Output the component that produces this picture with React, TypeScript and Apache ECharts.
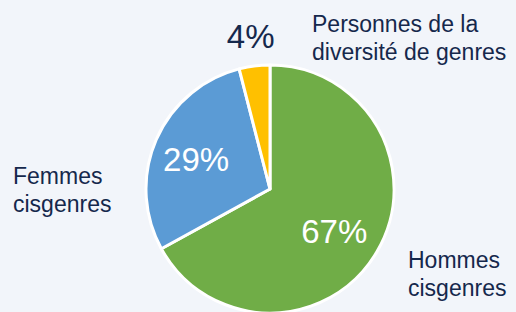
import React, { useEffect, useRef } from 'react';
import * as echarts from 'echarts';

const categories = ['Hommes\ncisgenres', 'Femmes\ncisgenres', 'Personnes de la\ndiversité de genres'];
const shares = [67, 29, 4];
const sliceColors = ['#70AD47', '#5B9BD5', '#FFC000'];

// label anchor (left x, middle y) for category names
const nameAnchors = [[408, 274], [13, 190], [312, 38]];
// small nudges for the percentage labels
const pctNudges = [[-5, 2], [0, 2], [0, 0]];

const NAVY = '#15284C';
const CENTER = [270, 189];
const R = 124;
const PCT_FONT = 'Liberation Sans Narrow, Arial Narrow, Liberation Sans, Arial, sans-serif';

export default function App() {
  const ref = useRef<HTMLDivElement>(null);
  useEffect(() => {
    const chart = echarts.init(ref.current!, null, { renderer: 'svg' });
    const base = categories.map((name, i) => ({ name, value: shares[i] }));
    chart.setOption({
      animation: false,
      backgroundColor: '#F2F5FA',
      series: [
        {
          type: 'pie',
          silent: true,
          center: CENTER,
          radius: [0, R],
          avoidLabelOverlap: false,
          data: base.map((d, i) => ({ ...d, itemStyle: { color: sliceColors[i] } })),
          itemStyle: { borderColor: '#FFFFFF', borderWidth: 3 },
          label: {
            show: true,
            position: 'outside',
            formatter: '{b}',
            fontFamily: 'Liberation Sans, Arial, sans-serif',
            fontSize: 23,
            lineHeight: 28,
            color: NAVY,
          },
          labelLine: { show: false },
          labelLayout: (p: any) => ({
            x: nameAnchors[p.dataIndex][0],
            y: nameAnchors[p.dataIndex][1],
            align: 'left',
            verticalAlign: 'middle',
          }),
        },
        {
          type: 'pie',
          silent: true,
          center: CENTER,
          radius: [31, R],
          avoidLabelOverlap: false,
          data: base.map((d, i) => ({ ...d, label: { show: i < 2 } })),
          itemStyle: { color: 'rgba(0,0,0,0)', borderWidth: 0 },
          label: {
            position: 'inside',
            formatter: '{c}%',
            fontFamily: PCT_FONT,
            fontSize: 33,
            color: '#FFFFFF',
          },
          labelLine: { show: false },
          labelLayout: (p: any) => ({
            dx: pctNudges[p.dataIndex][0],
            dy: pctNudges[p.dataIndex][1],
          }),
        },
        {
          type: 'pie',
          silent: true,
          center: CENTER,
          radius: [140, 162],
          avoidLabelOverlap: false,
          data: base.map((d, i) => ({ ...d, label: { show: i === 2 } })),
          itemStyle: { color: 'rgba(0,0,0,0)', borderWidth: 0 },
          label: {
            position: 'inside',
            formatter: '{c}%',
            fontFamily: PCT_FONT,
            fontSize: 33,
            color: NAVY,
          },
          labelLine: { show: false },
        },
      ],
    });
    return () => chart.dispose();
  }, []);
  return (
    <div
      ref={ref}
      style={{ position: 'absolute', left: 0, top: 0, width: 516, height: 312 }}
    />
  );
}
